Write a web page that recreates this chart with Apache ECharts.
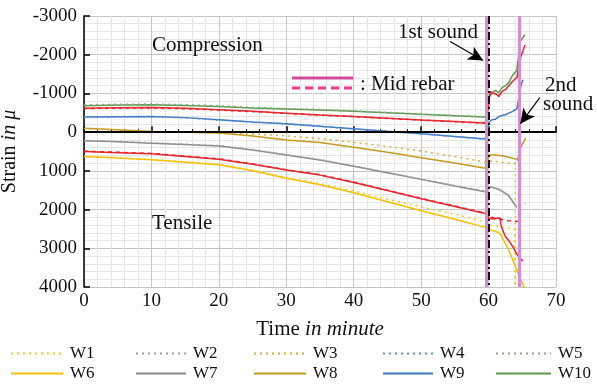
<!DOCTYPE html>
<html><head><meta charset="utf-8">
<script src="https://cdn.jsdelivr.net/npm/echarts@6/dist/echarts.min.js"></script>
<style>html,body{margin:0;padding:0;background:#fff}#c{width:597px;height:385px}</style>
</head><body><div id="c"></div>
<script>
const FONT = 'Liberation Serif';
const xTickLabels = ['0','10','20','30','40','50','60','70'];
const yTickLabels = ['-3000','-2000','-1000','0','1000','2000','3000','4000'];

const W1 = [[0,620],[5,660],[10,705],[15,765],[20,830],[25,980],[30,1170],[35,1330],[40,1520],[45,1730],[50,1930],[55,2120],[59.5,2315],[60.05,2400],[61,2420],[62,2450],[63,2480],[63.85,2500],[63.92,4600],[64.0,720]];
const W2 = [[0,215],[5,240],[10,275],[15,310],[20,345],[25,450],[30,580],[35,710],[40,870],[45,1040],[50,1210],[55,1380],[59.5,1520],[60.1,1400],[61,1440],[61.7,1490],[62.9,1620],[64.2,1930],[65.5,1840]];
const W3 = [[0,-90],[5,-55],[10,-20],[15,0],[20,15],[25,50],[30,95],[35,170],[40,260],[45,370],[50,490],[55,630],[59.5,775],[60.05,740],[61,760],[62,780],[63,800],[64.2,820],[64.5,600],[64.8,200]];
const W4 = [[0,-380],[5,-395],[10,-400],[15,-370],[20,-315],[25,-260],[30,-210],[35,-145],[40,-80],[45,-15],[50,45],[55,115],[59.5,185]];
const W5 = [[0,-705],[5,-720],[10,-725],[15,-710],[20,-680],[25,-640],[30,-610],[35,-585],[40,-550],[45,-510],[50,-470],[55,-430],[59.5,-400]];
const W6 = [[0,630],[5,670],[10,715],[15,780],[20,845],[25,1000],[30,1190],[35,1360],[40,1565],[45,1800],[50,2030],[55,2250],[59.5,2460],[60.05,2520],[61,2560],[61.7,2615],[62,2720],[63,3050],[63.6,3310],[64.5,3700],[65.4,4050]];
const W7 = [[0,225],[5,250],[10,285],[15,320],[20,355],[25,460],[30,590],[35,720],[40,880],[45,1050],[50,1220],[55,1390],[59.5,1540],[60.1,1410],[61,1450],[61.7,1495],[62.9,1625],[64.2,1945]];
const W8 = [[0,-100],[5,-60],[10,-15],[15,5],[20,25],[25,100],[30,200],[35,270],[40,390],[45,520],[50,660],[55,800],[59.5,930],[60.05,590],[61,590],[62,610],[63,650],[64.3,710],[64.7,415],[65.5,155]];
const W9 = [[0,-390],[5,-400],[10,-405],[15,-375],[20,-320],[25,-265],[30,-215],[35,-150],[40,-85],[45,-20],[50,40],[55,110],[59.5,180],[60.05,-250],[60.5,-320],[61,-330],[61.5,-400],[62,-430],[62.5,-450],[63,-490],[63.5,-530],[64.2,-600],[64.8,-1200],[65.1,-1355]];
const W10 = [[0,-680],[5,-700],[10,-705],[15,-690],[20,-660],[25,-625],[30,-600],[35,-575],[40,-540],[45,-500],[50,-460],[55,-425],[59.5,-390],[60.05,-900],[60.5,-1000],[61,-1080],[61.5,-1020],[62,-1150],[62.5,-1200],[63,-1280],[63.5,-1450],[64.2,-1600],[64.7,-2350],[65.0,-2420],[65.4,-2520]];
const midTopSolid = [[0,-620],[5,-630],[10,-635],[15,-615],[20,-580],[25,-540],[30,-490],[35,-445],[40,-405],[45,-360],[50,-315],[55,-275],[59.5,-235],[60.05,-700],[60.2,-1050],[60.7,-1000],[61.2,-980],[61.5,-920],[62,-1050],[62.5,-1100],[63,-1200],[63.5,-1300],[64.2,-1420],[64.7,-1900],[65.1,-2100],[65.4,-2250]];
const midTopDash = [[0,-610],[5,-620],[10,-625],[15,-605],[20,-570],[25,-530],[30,-485],[35,-440],[40,-400],[45,-355],[50,-310],[55,-270],[59.5,-230]];
const midBotSolid = [[0,500],[5,530],[10,560],[15,630],[20,700],[25,830],[30,980],[35,1110],[40,1300],[45,1510],[50,1720],[55,1920],[59.5,2100],[59.8,2050],[60.0,2250],[60.5,2200],[61,2230],[61.7,2220],[61.9,2450],[62.5,2700],[63,2800],[63.6,2960],[64.2,3150],[64.6,3250],[65.1,3330]];
const midBotDash = [[0,490],[5,520],[10,550],[15,620],[20,690],[25,820],[30,970],[35,1100],[40,1290],[45,1500],[50,1710],[55,1910],[59.5,2090],[60.0,2230],[61.7,2250],[63,2290],[65.1,2315]];

const eventLines = [59.65, 64.55];   // pink event lines
const soundLine = 60.0;              // dash-dot
const arrow1 = [[54.3,-2340],[59.2,-1850]];
const arrow2 = [[67.6,-890],[64.7,-215]];

const names = ['W1','W2','W3','W4','W5','W6','W7','W8','W9','W10'];
const datas = [W1,W2,W3,W4,W5,W6,W7,W8,W9,W10];
const colors = ['#f2c62c','#a0a0a0','#d2ac3c','#5a8fd0','#8fa488','#f5c000','#8a8a8a','#c49a22','#3d78bf','#5b9a4c'];

const series = names.map((n,i)=>({
  name:n, type:'line', data:datas[i], symbol:'none', showSymbol:false,
  legendIcon:'path://M0,0L0,0',
  lineStyle:{color:colors[i], width:1.5, type: i<5 ? [2,4] : 'solid'},
  itemStyle:{color:colors[i]}, animation:false, z: i<5 ? 3 : 2
}));
const red = '#e8262c';
series.push({name:'midTopSolid',type:'line',data:midTopSolid,symbol:'none',lineStyle:{color:red,width:1.5},animation:false});
series.push({name:'midTopDash',type:'line',data:midTopDash,symbol:'none',lineStyle:{color:red,width:1.5,type:[3,4]},animation:false});
series.push({name:'midBotSolid',type:'line',data:midBotSolid,symbol:'none',lineStyle:{color:red,width:1.5},animation:false});
series.push({name:'midBotDash',type:'line',data:midBotDash,symbol:'none',lineStyle:{color:red,width:1.5,type:[4,4]},animation:false});
series.push({name:'refs',type:'line',data:[],animation:false,
  markLine:{silent:true,symbol:['none','none'],label:{show:false},animation:false,
    data:[
      {yAxis:0,lineStyle:{color:'#000',width:2,type:'solid'}},
      {xAxis:eventLines[0],lineStyle:{color:'#d98ad2',width:3,type:'solid'}},
      {xAxis:eventLines[1],lineStyle:{color:'#d98ad2',width:3,type:'solid'}},
      {xAxis:soundLine,lineStyle:{color:'#111',width:2,type:[8,3,2,3]}}
    ]}, z:5});
series.push({name:'arrows',type:'line',data:[],animation:false,
  markLine:{silent:true,symbol:['none','arrow'],symbolSize:[11,15],label:{show:false},animation:false,
    lineStyle:{color:'#000',width:1.2,type:'solid'},
    data:[[{coord:arrow1[0]},{coord:arrow1[1]}],[{coord:arrow2[0]},{coord:arrow2[1]}]]}, z:6});

const legendLeft = [10,135,253,382,495];
const legendWidth = [52,50,52,50,55];
const legends = names.map((n,i)=>({
  data:[n], left:legendLeft[i%5], top: i<5 ? 345 : 365, itemWidth:legendWidth[i%5], itemHeight:14,
  itemGap:0, padding:0, itemStyle:{opacity:0,borderWidth:0},
  textStyle:{fontFamily:FONT,fontSize:17,color:'#111',padding:[0,0,0,2]}, selectedMode:false
}));

const chart = echarts.init(document.getElementById('c'), null, {renderer:'canvas'});
chart.setOption({
  backgroundColor:'#fff', animation:false,
  grid:{left:84,right:41,top:16,bottom:98,containLabel:false,outerBoundsMode:'none'},
  legend:legends,
  xAxis:{type:'value',min:0,max:70,interval:10,
    name:'{a|Time }{b|in minute}',nameLocation:'middle',nameGap:32,
    nameTextStyle:{rich:{a:{fontFamily:FONT,fontSize:21,color:'#111'},b:{fontFamily:FONT,fontSize:21,fontStyle:'italic',color:'#111'}}},
    axisLine:{show:true,lineStyle:{color:'#000',width:1.5}},
    axisTick:{show:true,inside:true,length:6,lineStyle:{color:'#000',width:1.5}},
    minorTick:{show:true,splitNumber:5,length:3,lineStyle:{color:'#000',width:1}},
    axisLabel:{fontFamily:FONT,fontSize:19,color:'#111',margin:5,formatter:(v)=>xTickLabels[Math.round(v/10)]},
    splitLine:{show:true,lineStyle:{color:'#c4c4c4',width:1}},
    minorSplitLine:{show:true,lineStyle:{color:'#e6e6e6',width:1}}
  },
  yAxis:{type:'value',inverse:true,min:-3000,max:4000,interval:1000,
    name:'{a|Strain }{b|in μ}',nameLocation:'middle',nameGap:64,nameRotate:90,
    nameTextStyle:{rich:{a:{fontFamily:FONT,fontSize:20,color:'#111'},b:{fontFamily:FONT,fontSize:20,fontStyle:'italic',color:'#111'}}},
    axisLine:{show:true,onZero:false,lineStyle:{color:'#000',width:1.5}},
    axisTick:{show:true,inside:true,length:6,lineStyle:{color:'#000',width:1.5}},
    minorTick:{show:false,splitNumber:5},
    axisLabel:{fontFamily:FONT,fontSize:19,color:'#111',margin:7,formatter:(v)=>yTickLabels[Math.round((v+3000)/1000)]},
    splitLine:{show:true,lineStyle:{color:'#c4c4c4',width:1}},
    minorSplitLine:{show:true,lineStyle:{color:'#e6e6e6',width:1}}
  },
  series:series,
  graphic:[
    {type:'text',style:{x:152,y:45,text:'Compression',font:'21px "Liberation Serif"',fill:'#111',verticalAlign:'middle'},z:10},
    {type:'text',style:{x:152,y:223,text:'Tensile',font:'21px "Liberation Serif"',fill:'#111',verticalAlign:'middle'},z:10},
    {type:'text',style:{x:398,y:32,text:'1st sound',font:'21px "Liberation Serif"',fill:'#111',verticalAlign:'middle'},z:10},
    {type:'text',style:{x:545,y:85,text:'2nd',font:'21px "Liberation Serif"',fill:'#111',verticalAlign:'middle'},z:10},
    {type:'text',style:{x:543,y:104,text:'sound',font:'21px "Liberation Serif"',fill:'#111',verticalAlign:'middle'},z:10},
    {type:'text',style:{x:360,y:84,text:': Mid rebar',font:'21px "Liberation Serif"',fill:'#111',verticalAlign:'middle'},z:10},
    {type:'line',shape:{x1:292,y1:78,x2:353,y2:78},style:{stroke:'#d4489c',lineWidth:3},z:10},
    {type:'line',shape:{x1:292,y1:88,x2:353,y2:88},style:{stroke:'#ee3a8c',lineWidth:3,lineDash:[8,5]},z:10}
  ]
});
</script></body></html>
